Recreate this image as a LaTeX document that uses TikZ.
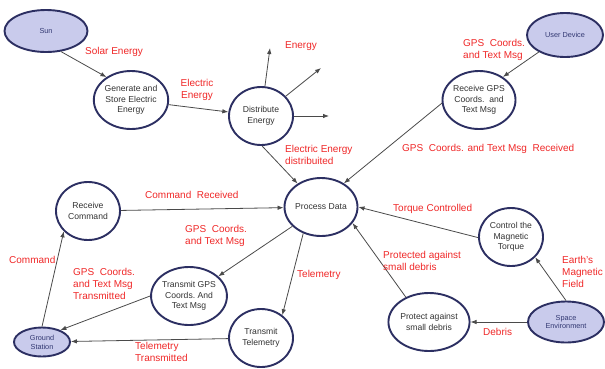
\documentclass[tikz,border=0pt]{standalone}
\usepackage{fontspec}
\setmainfont{Liberation Sans}
\usetikzlibrary{arrows.meta,shapes.geometric}
\definecolor{navy}{HTML}{2C2F62}
\definecolor{navytext}{HTML}{323872}
\definecolor{lav}{HTML}{C9CBEC}
\definecolor{txtgray}{HTML}{333333}
\definecolor{linegray}{HTML}{4A4A4A}
\definecolor{lblred}{HTML}{F02828}
\tikzset{
  proc/.style={ellipse, draw=navy, line width=1.9pt, minimum width=64pt,
    minimum height=58pt, inner sep=0pt, align=center,
    font=\fontsize{8.6}{10.5}\selectfont, text=txtgray},
  ext/.style={ellipse, draw=navy, fill=lav, line width=1.9pt, inner sep=0pt,
    align=center, font=\fontsize{7.3}{8.8}\selectfont, text=navytext},
  flow/.style={draw=linegray, line width=0.8pt, -{Latex[length=6pt,width=4.5pt]}},
  lbl/.style={text=lblred, font=\fontsize{10}{12}\selectfont, align=left,
    anchor=west, inner sep=0pt},
}
\begin{document}
\begin{tikzpicture}[x=1pt,y=-1pt]
\useasboundingbox[fill=white] (0,0) rectangle (605,368);

% external entities
\node[ext, minimum width=83pt, minimum height=42pt] (sun) at (46,31) {Sun};
\node[ext, minimum width=76pt, minimum height=44pt] (ud) at (565,35) {User Device};
\node[ext, minimum width=56pt, minimum height=29pt] (gs) at (42,342) {Ground\\Station};
\node[ext, minimum width=76pt, minimum height=41pt] (se) at (566,322) {Space\\Environment};

% processes
\node[proc] (gen) at (131,100) {Generate and\\Store Electric\\Energy};
\node[proc] (dist) at (261,116) {Distribute\\Energy};
\node[proc] (pd) at (321,207) {Process Data};
\node[proc] (rgps) at (479,100) {Receive GPS\\Coords.\ \ and\\Text Msg};
\node[proc] (rc) at (88,211) {Receive\\Command};
\node[proc] (tgps) at (189,296) {Transmit GPS\\Coords.\ And\\Text Msg};
\node[proc] (tt) at (261,338) {Transmit\\Telemetry};
\node[proc] (ct) at (511,237) {Control the\\Magnetic\\Torque};
\node[proc] (pr) at (429,322) {Protect against\\small debris};

% free ends of the energy outputs
\coordinate (e1) at (270,48);
\coordinate (e2) at (321,68);
\coordinate (e3) at (329,116);

% flows
\draw[flow] (sun.-54) -- (gen.137);
\draw[flow] (gen) -- (dist);
\draw[flow] (dist) -- (e1);
\draw[flow] (dist) -- (e2);
\draw[flow] (dist) -- (e3);
\draw[flow] (dist.-88) -- (pd.135);
\draw[flow] (ud.-147) -- (rgps.44);
\draw[flow] (rgps.185) -- (pd.46);
\draw[flow] (rc) -- (pd);
\draw[flow] (pd) -- (tgps);
\draw[flow] (pd.236) -- (tt.47);
\draw[flow] (gs.90) -- (rc.220);
\draw[flow] (tgps.180) -- (gs.33);
\draw[flow] (tt) -- (gs);
\draw[flow] (ct.181) -- (pd.0);
\draw[flow] (pr.133) -- (pd.-27);
\draw[flow] (se.90) -- (ct.-40);
\draw[flow] (se) -- (pr);

% flow labels
\node[lbl] (lsolar) at (85,52) {Solar Energy};
\node[lbl, align=center, anchor=center] (lelec) at (197,90) {Electric\\Energy};
\node[lbl] (lenergy) at (285,46) {Energy};
\node[lbl] (ldist) at (285,155) {Electric Energy\\distribuited};
\node[lbl] (lgpsin) at (463,50) {GPS\ \ Coords.\\and Text Msg};
\node[lbl] (lgpsrx) at (402,149) {GPS\ \ Coords. and Text Msg\ \ Received};
\node[lbl] (lcmdrx) at (145,195) {Command\ \ Received};
\node[lbl] (lgpsout) at (185,236) {GPS\ \ Coords.\\and Text Msg};
\node[lbl] (lcmd) at (9,260) {Command};
\node[lbl] (lgpstx) at (73,284) {GPS\ \ Coords.\\and Text Msg\\Transmitted};
\node[lbl] (ltel) at (297,275) {Telemetry};
\node[lbl] (ltx) at (135,351.5) {Telemetry\\Transmitted};
\node[lbl] (ltorque) at (393,209) {Torque Controlled};
\node[lbl] (lprot) at (383,261) {Protected against\\small debris};
\node[lbl] (lfield) at (562,272) {Earth's\\Magnetic\\Field};
\node[lbl] (ldebris) at (483,332) {Debris};
\end{tikzpicture}
\end{document}
